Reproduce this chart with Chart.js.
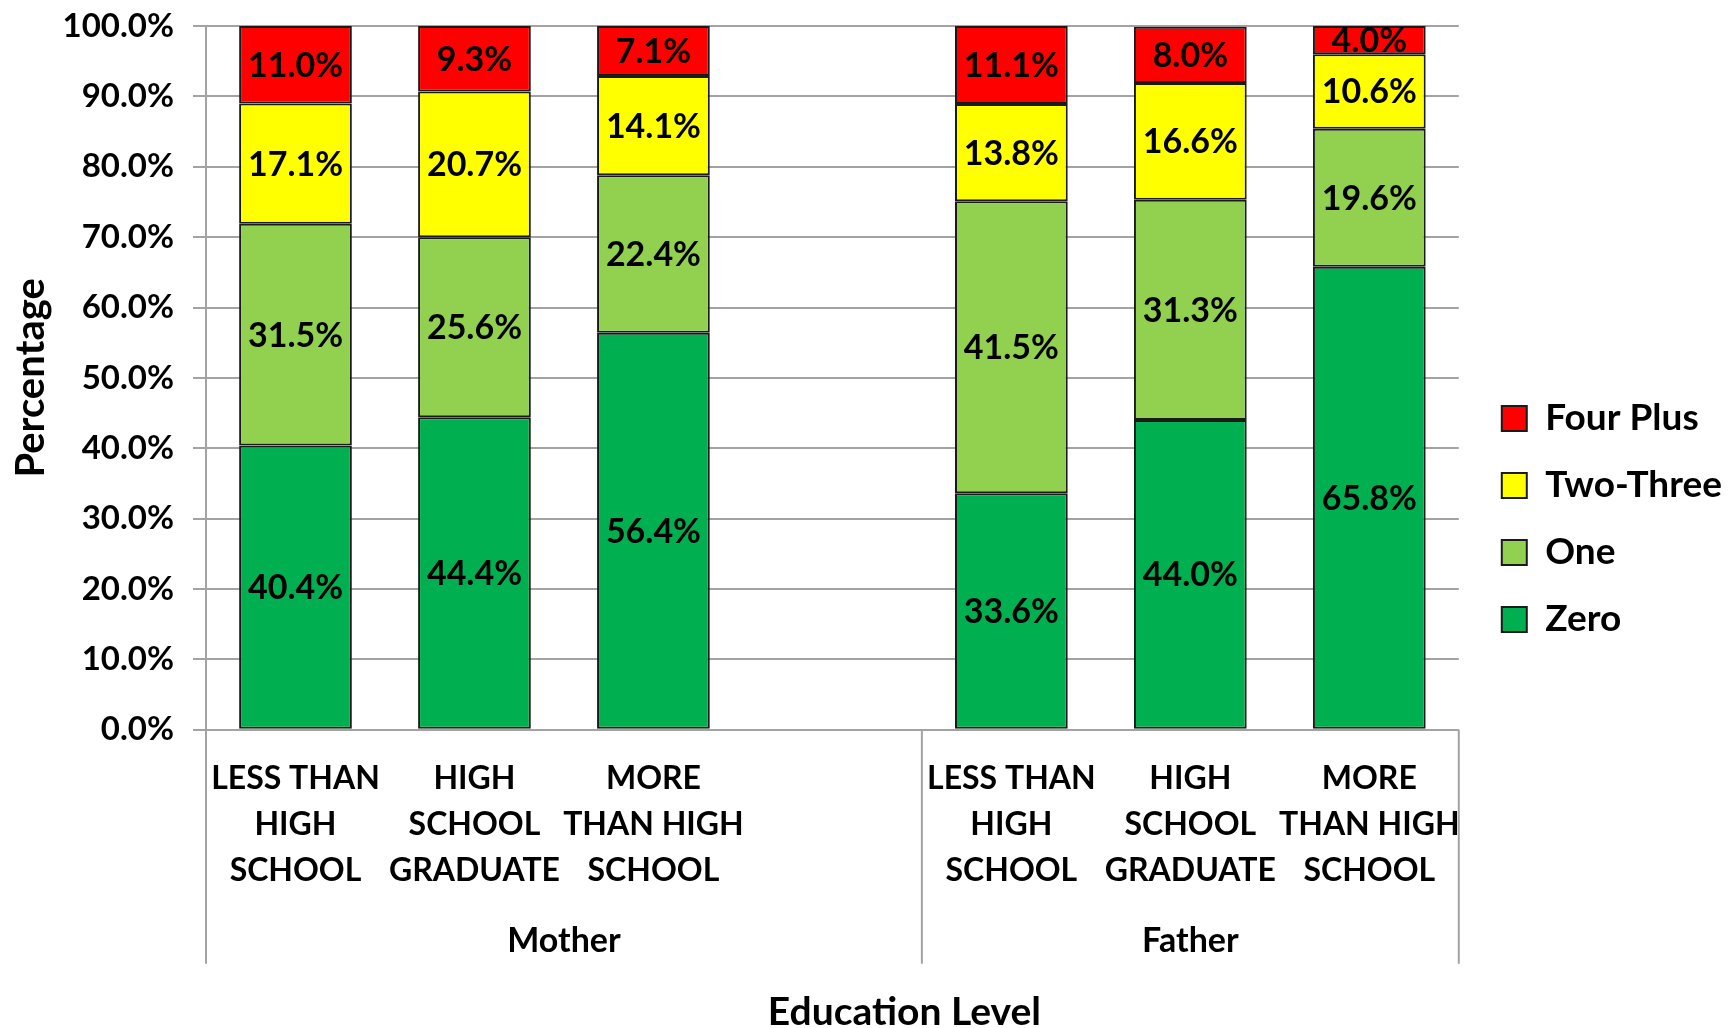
<!DOCTYPE html>
<html>
<head>
<meta charset="utf-8">
<script src="https://cdn.jsdelivr.net/npm/chart.js@4/dist/chart.umd.min.js"></script>
<style>
  html, body { margin: 0; padding: 0; background: #fff; }
  #wrap { width: 1733px; height: 1028px; }
</style>
</head>
<body>
<div id="wrap"><canvas id="c"></canvas></div>
<script>
const categories = [
    ['LESS THAN', 'HIGH', 'SCHOOL'],
    ['HIGH', 'SCHOOL', 'GRADUATE'],
    ['MORE', 'THAN HIGH', 'SCHOOL'],
    [''],
    ['LESS THAN', 'HIGH', 'SCHOOL'],
    ['HIGH', 'SCHOOL', 'GRADUATE'],
    ['MORE', 'THAN HIGH', 'SCHOOL']
];
const groups = [
    { label: 'Mother', from: 0, to: 3 },
    { label: 'Father', from: 4, to: 6 }
];
const zeroVals = [40.4, 44.4, 56.4, null, 33.6, 44.0, 65.8];
const oneVals = [31.5, 25.6, 22.4, null, 41.5, 31.3, 19.6];
const twoThreeVals = [17.1, 20.7, 14.1, null, 13.8, 16.6, 10.6];
const fourPlusVals = [11.0, 9.3, 7.1, null, 11.1, 8.0, 4.0];
const yTicks = [0, 10, 20, 30, 40, 50, 60, 70, 80, 90, 100];

const FONT = 'Lato';
const gridGrey = '#A3A3A3';

const valueLabels = {
    id: 'valueLabels',
    afterDatasetsDraw: (chart) => {
        const ctx = chart.ctx;
        ctx.save();
        ctx.fillStyle = '#000';
        ctx.font = `bold 34px ${FONT}`;
        ctx.textAlign = 'center';
        ctx.textBaseline = 'middle';
        chart.data.datasets.forEach((ds, i) => {
            const meta = chart.getDatasetMeta(i);
            meta.data.forEach((bar, j) => {
                const v = ds.data[j];
                if (v === null || v === undefined) return;
                ctx.fillText(v.toFixed(1) + '%', bar.x, (bar.y + bar.base) / 2 + 1);
            });
        });
        ctx.restore();
    }
};

// nudge the legend so it sits where the original had it
const legendShift = {
    id: 'legendShift',
    afterLayout: (chart) => {
        const lg = chart.legend;
        if (!lg) return;
        lg.left += 13; lg.right += 13;
        lg.top += 46; lg.bottom += 46;
    }
};

const groupAxis = {
    id: 'groupAxis',
    afterDraw: (chart) => {
        const ctx = chart.ctx;
        const x = chart.scales.x;
        const area = chart.chartArea;
        const slot = x.width / categories.length;
        const lineBottom = area.bottom + 234;

        ctx.save();
        ctx.strokeStyle = gridGrey;
        ctx.lineWidth = 2;
        const edges = [x.getPixelForValue(0) - slot / 2];
        groups.forEach(g => edges.push(x.getPixelForValue(g.to) + slot / 2));
        edges.forEach(px => {
            ctx.beginPath();
            ctx.moveTo(px, area.bottom);
            ctx.lineTo(px, lineBottom);
            ctx.stroke();
        });

        ctx.fillStyle = '#000';
        ctx.font = `bold 34px ${FONT}`;
        ctx.textAlign = 'center';
        ctx.textBaseline = 'middle';
        groups.forEach(g => {
            const left = x.getPixelForValue(g.from) - slot / 2;
            const right = x.getPixelForValue(g.to) + slot / 2;
            ctx.fillText(g.label, (left + right) / 2, area.bottom + 211);
        });

        ctx.font = `bold 39px ${FONT}`;
        ctx.fillText('Education Level', (area.left + area.right) / 2 + 72, area.bottom + 283);
        ctx.restore();
    }
};

const barStyle = {
    borderColor: '#1a1a1a',
    borderWidth: 2,
    borderSkipped: false,
    barPercentage: 0.63,
    categoryPercentage: 1
};

new Chart(document.getElementById('c'), {
    type: 'bar',
    plugins: [valueLabels, legendShift, groupAxis],
    data: {
        labels: categories,
        datasets: [
            { label: 'Zero', data: zeroVals, backgroundColor: '#00B050', ...barStyle },
            { label: 'One', data: oneVals, backgroundColor: '#92D050', ...barStyle },
            { label: 'Two-Three', data: twoThreeVals, backgroundColor: '#FFFF00', ...barStyle },
            { label: 'Four Plus', data: fourPlusVals, backgroundColor: '#FF0000', ...barStyle }
        ]
    },
    options: {
        responsive: true,
        maintainAspectRatio: false,
        animation: false,
        layout: { padding: { top: 26, left: 7, right: 14, bottom: 108 } },
        plugins: {
            legend: {
                position: 'right',
                reverse: true,
                labels: {
                    color: '#000',
                    font: { family: FONT, size: 37, weight: 'bold' },
                    boxWidth: 25,
                    boxHeight: 25,
                    padding: 30,
                    useBorderRadius: false
                }
            },
            tooltip: { enabled: false }
        },
        scales: {
            x: {
                stacked: true,
                grid: { display: false, drawTicks: false },
                border: { display: false },
                ticks: {
                    color: '#000',
                    font: { family: FONT, size: 32, weight: 'bold', lineHeight: 1.44 },
                    maxRotation: 0,
                    autoSkip: false,
                    padding: 26
                }
            },
            y: {
                stacked: true,
                min: 0,
                max: 100,
                afterBuildTicks: (scale) => { scale.ticks = yTicks.map(v => ({ value: v })); },
                afterFit: (scale) => {
                    scale.width = 199;
                    scale.paddingTop = 0;
                    scale.paddingBottom = 0;
                },
                grid: { color: gridGrey, lineWidth: 2, tickLength: 13 },
                border: { color: gridGrey, width: 2 },
                ticks: {
                    color: '#000',
                    font: { family: FONT, size: 33, weight: 'bold' },
                    padding: 19,
                    callback: (val) => val.toFixed(1) + '%'
                },
                title: {
                    display: true,
                    text: 'Percentage',
                    color: '#000',
                    font: { family: FONT, size: 40, weight: 'bold' },
                    padding: { top: 0, bottom: 9 }
                }
            }
        }
    }
});
</script>
</body>
</html>
